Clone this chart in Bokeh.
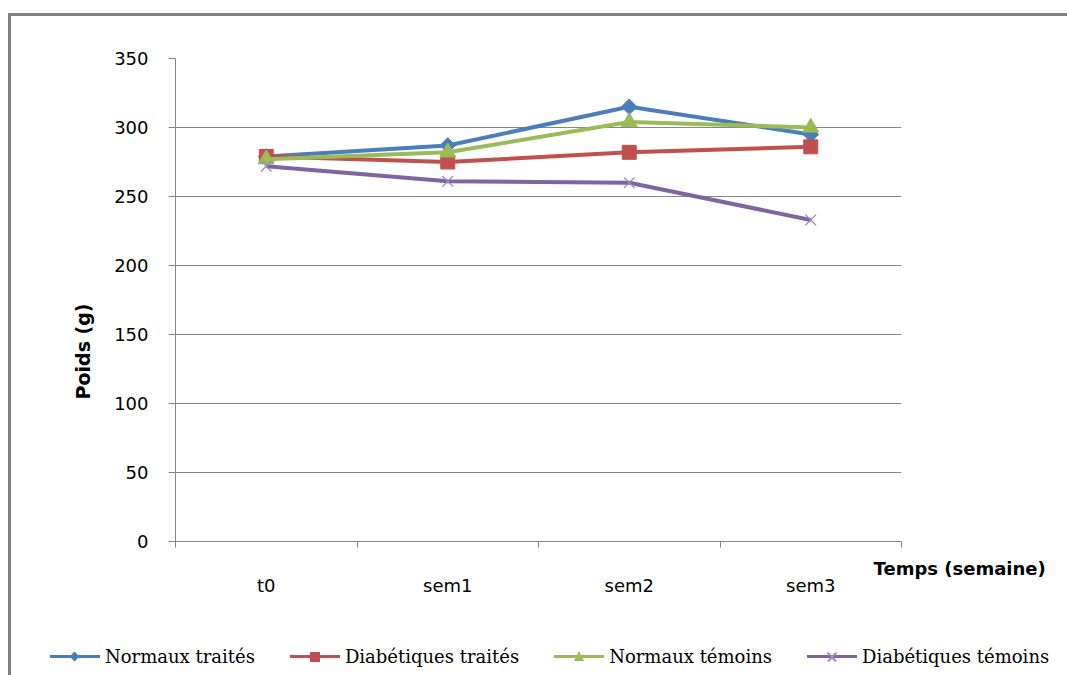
import math

from bokeh.embed import file_html
from bokeh.layouts import column
from bokeh.models import Div, FixedTicker, Label, Range1d
from bokeh.plotting import figure
from bokeh.resources import INLINE

# Weekly body weight of the four groups of rats (g)
semaines = ["t0", "sem1", "sem2", "sem3"]
normaux_traites = [279, 287, 315, 295]
diabetiques_traites = [279, 275, 282, 286]
normaux_temoins = [277, 282, 304, 300]
diabetiques_temoins = [272, 261, 260, 233]
graduations_poids = [0, 50, 100, 150, 200, 250, 300, 350]

# one slot per week, points sit in the middle of each slot
x = [i + 0.5 for i in range(len(semaines))]

GRIS = "#868686"
TICK_FONT = "DejaVu Sans"
W, H_PLOT, H_LEG = 1067, 630, 45

p = figure(width=W, height=H_PLOT, output_backend="svg", toolbar_location=None,
           x_range=Range1d(0, len(semaines)), y_range=Range1d(0, 350),
           min_border_left=175, min_border_right=166,
           min_border_top=58, min_border_bottom=H_PLOT - 541)
p.outline_line_color = None
p.background_fill_color = "white"
p.border_fill_color = "white"

# outer chart frame: grey top and left edges
p.stylesheets = [
    ":host::after { content: ''; position: absolute; left: 8px; top: 13px; "
    "right: 0px; bottom: 0px; border-left: 3px solid #808080; "
    "border-top: 3px solid #808080; pointer-events: none; z-index: 100; }"
]

# y axis
p.yaxis.ticker = FixedTicker(ticks=graduations_poids)
p.yaxis.axis_line_color = GRIS
p.yaxis.major_tick_line_color = GRIS
p.yaxis.major_tick_out = 7
p.yaxis.major_tick_in = 0
p.yaxis.minor_tick_line_color = None
p.yaxis.major_label_standoff = 20
p.yaxis.major_label_text_font = TICK_FONT
p.yaxis.major_label_text_font_size = "18px"
p.yaxis.major_label_text_color = "black"

# x axis: labels under each slot, ticks on slot boundaries
p.xaxis.ticker = FixedTicker(ticks=x, minor_ticks=list(range(len(semaines) + 1)))
p.xaxis.major_label_overrides = {xi: s for xi, s in zip(x, semaines)}
p.xaxis.axis_line_color = GRIS
p.xaxis.major_tick_line_color = None
p.xaxis.major_tick_out = 0
p.xaxis.major_tick_in = 0
p.xaxis.minor_tick_line_color = GRIS
p.xaxis.minor_tick_out = 6
p.xaxis.minor_tick_in = 0
p.xaxis.major_label_standoff = 27
p.xaxis.major_label_text_font = TICK_FONT
p.xaxis.major_label_text_font_size = "18px"
p.xaxis.major_label_text_color = "black"

p.xgrid.visible = False
p.ygrid.ticker = FixedTicker(ticks=graduations_poids)
p.ygrid.grid_line_color = GRIS
p.ygrid.grid_line_width = 1.2

series = [
    ("Normaux traités", normaux_traites, "#4a7ebb",
     dict(marker="square", size=11, angle=math.pi / 4)),
    ("Diabétiques traités", diabetiques_traites, "#c0504d",
     dict(marker="square", size=14)),
    ("Normaux témoins", normaux_temoins, "#9bbb59",
     dict(marker="triangle", size=16)),
    ("Diabétiques témoins", diabetiques_temoins, "#8064a2",
     dict(marker="x", size=15)),
]
X_COLOR = "#9a88c6"

for nom, valeurs, couleur, mk in series:
    p.line(x, valeurs, line_color=couleur, line_width=4)
    if mk["marker"] == "x":
        p.scatter(x, valeurs, line_color=X_COLOR, line_width=1.3, **mk)
    else:
        p.scatter(x, valeurs, fill_color=couleur, line_color=couleur, **mk)

# axis titles
p.add_layout(Label(x=3.846, y=-19.6, text="Temps (semaine)",
                   text_align="left", text_baseline="middle",
                   text_font="DejaVu Sans", text_font_style="bold",
                   text_font_size="18px", text_color="black"), "above")
p.add_layout(Label(x=-0.507, y=137.7, text="Poids (g)", angle=math.pi / 2,
                   text_align="center", text_baseline="middle",
                   text_font="DejaVu Sans", text_font_style="bold",
                   text_font_size="19px", text_color="black"), "left")


# legend strip under the chart (HTML row: line sample + marker + name)
def marker_html(kind, couleur):
    base = "position:absolute;"
    if kind == "diamond":
        return (f"<div style='{base}left:21px;top:6px;width:7px;height:7px;"
                f"background:{couleur};transform:rotate(45deg);'></div>")
    if kind == "square":
        return (f"<div style='{base}left:20px;top:5px;width:10px;height:10px;"
                f"background:{couleur};'></div>")
    if kind == "triangle":
        return (f"<div style='{base}left:20px;top:4px;width:0;height:0;"
                f"border-left:5px solid transparent;border-right:5px solid transparent;"
                f"border-bottom:10px solid {couleur};'></div>")
    bar = (f"{base}left:19px;top:9px;width:12px;height:1.5px;"
           f"background:{X_COLOR};")
    return (f"<div style='{bar}transform:rotate(45deg);'></div>"
            f"<div style='{bar}transform:rotate(-45deg);'></div>")


kinds = ["diamond", "square", "triangle", "x"]
entries = []
for (nom, _, couleur, _), kind in zip(series, kinds):
    entries.append(
        "<div style='display:flex;align-items:center;margin-right:35px;'>"
        "<div style='position:relative;width:50px;height:20px;'>"
        f"<div style='position:absolute;left:0;top:8px;width:50px;height:3px;"
        f"background:{couleur};'></div>"
        f"{marker_html(kind, couleur)}</div>"
        "<span style=\"margin-left:5px;font-family:'DejaVu Serif';font-size:18px;"
        f"line-height:20px;color:black;white-space:nowrap;\">{nom}</span></div>"
    )

legend_html = (
    f"<div style='position:relative;width:{W}px;height:{H_LEG}px;"
    "background:white;overflow:hidden;'>"
    f"<div style='position:absolute;left:8px;top:0;width:3px;height:{H_LEG}px;"
    "background:#808080;'></div>"
    "<div style='position:absolute;left:50px;top:17px;display:flex;'>"
    + "".join(entries) + "</div></div>"
)
legende = Div(text=legend_html, width=W, height=H_LEG, margin=0)

open("out.html", "w").write(file_html(column(p, legende, spacing=0), INLINE))
